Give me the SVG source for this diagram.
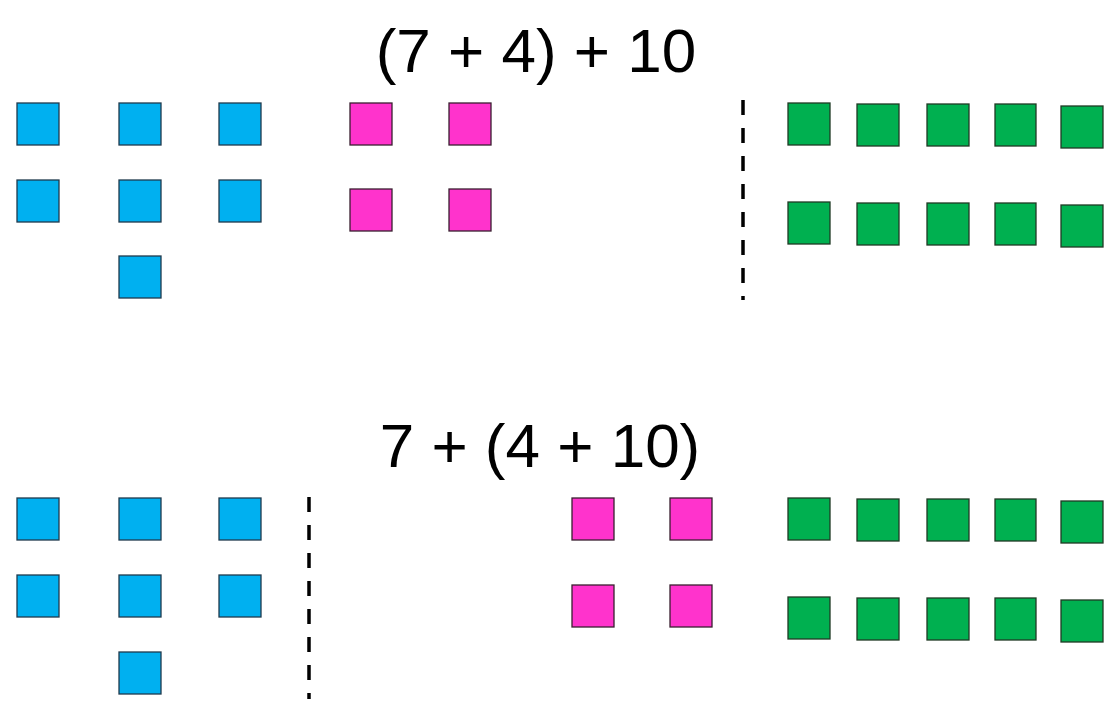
<svg xmlns="http://www.w3.org/2000/svg" width="1120" height="720" viewBox="0 0 1120 720">
<style>
.b{fill:#00b0f0;stroke:#1f3a4d;stroke-width:1.3}
.p{fill:#ff33cc;stroke:#3a1f30;stroke-width:1.3}
.g{fill:#00b050;stroke:#1f3a24;stroke-width:1.3}
.d{stroke:#000;stroke-width:3.5;stroke-dasharray:15 13}
text{font-family:"Liberation Sans",Arial,sans-serif;font-size:62px;fill:#000;text-anchor:middle}
</style>
<rect width="1120" height="720" fill="#fff"/>
<text x="536" y="72">(7 + 4) + 10</text>
<text x="540" y="467">7 + (4 + 10)</text>
<g id="top-blue">
<rect class="b" x="17" y="103" width="42" height="42"/><rect class="b" x="119" y="103" width="42" height="42"/><rect class="b" x="219" y="103" width="42" height="42"/>
<rect class="b" x="17" y="180" width="42" height="42"/><rect class="b" x="119" y="180" width="42" height="42"/><rect class="b" x="219" y="180" width="42" height="42"/>
<rect class="b" x="119" y="256" width="42" height="42"/>
</g>
<g id="top-pink">
<rect class="p" x="350" y="103" width="42" height="42"/><rect class="p" x="449" y="103" width="42" height="42"/>
<rect class="p" x="350" y="189" width="42" height="42"/><rect class="p" x="449" y="189" width="42" height="42"/>
</g>
<g id="top-green">
<rect class="g" x="788" y="103" width="42" height="42"/><rect class="g" x="857" y="104" width="42" height="42"/><rect class="g" x="927" y="104" width="42" height="42"/><rect class="g" x="995" y="104" width="41" height="42"/><rect class="g" x="1061" y="106" width="42" height="42"/>
<rect class="g" x="788" y="202" width="42" height="42"/><rect class="g" x="857" y="203" width="42" height="42"/><rect class="g" x="927" y="203" width="42" height="42"/><rect class="g" x="995" y="203" width="41" height="42"/><rect class="g" x="1061" y="205" width="42" height="42"/>
</g>
<g id="bottom-blue">
<rect class="b" x="17" y="498" width="42" height="42"/><rect class="b" x="119" y="498" width="42" height="42"/><rect class="b" x="219" y="498" width="42" height="42"/>
<rect class="b" x="17" y="575" width="42" height="42"/><rect class="b" x="119" y="575" width="42" height="42"/><rect class="b" x="219" y="575" width="42" height="42"/>
<rect class="b" x="119" y="652" width="42" height="42"/>
</g>
<g id="bottom-pink">
<rect class="p" x="572" y="498" width="42" height="42"/><rect class="p" x="670" y="498" width="42" height="42"/>
<rect class="p" x="572" y="585" width="42" height="42"/><rect class="p" x="670" y="585" width="42" height="42"/>
</g>
<g id="bottom-green">
<rect class="g" x="788" y="498" width="42" height="42"/><rect class="g" x="857" y="499" width="42" height="42"/><rect class="g" x="927" y="499" width="42" height="42"/><rect class="g" x="995" y="499" width="41" height="42"/><rect class="g" x="1061" y="501" width="42" height="42"/>
<rect class="g" x="788" y="597" width="42" height="42"/><rect class="g" x="857" y="598" width="42" height="42"/><rect class="g" x="927" y="598" width="42" height="42"/><rect class="g" x="995" y="598" width="41" height="42"/><rect class="g" x="1061" y="600" width="42" height="42"/>
</g>
<g id="connectors">
<line class="d" x1="743" y1="100" x2="743" y2="300"/>
<line class="d" x1="309" y1="497" x2="309" y2="699"/>
</g>
</svg>
